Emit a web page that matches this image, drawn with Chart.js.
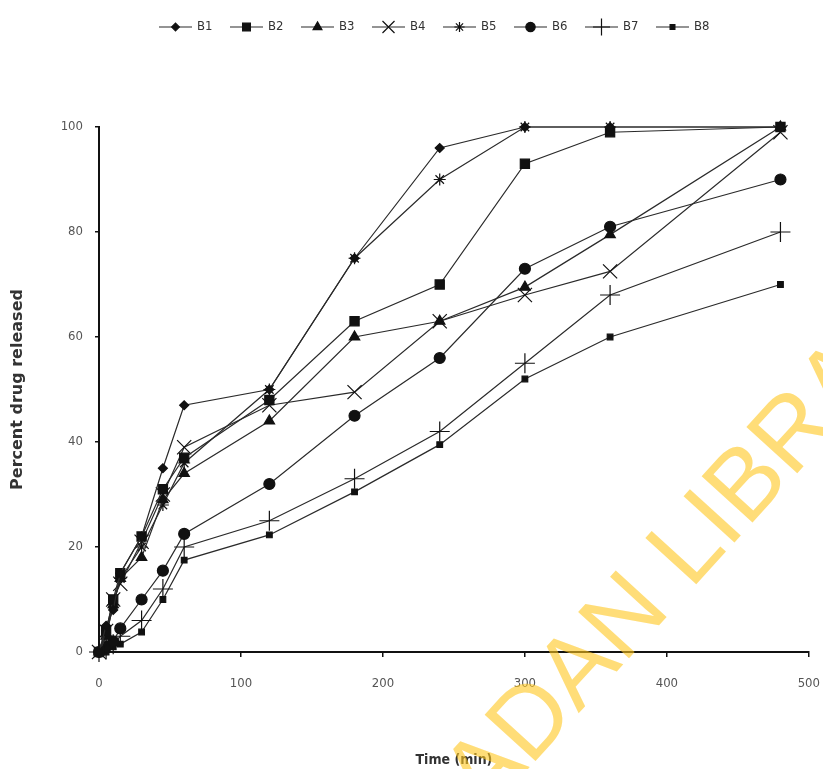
<!DOCTYPE html>
<html>
<head>
<meta charset="utf-8">
<script src="https://cdn.jsdelivr.net/npm/chart.js"></script>
<style>
  html, body { margin: 0; padding: 0; background: #fff; }
  #wrap { width: 823px; height: 769px; }
</style>
</head>
<body>
<div id="wrap"><canvas id="c" width="823" height="769"></canvas></div>
<script>
// time points (min)
const times = [0, 5, 10, 15, 30, 45, 60, 120, 180, 240, 300, 360, 480];

// percent drug released per batch
const b1 = [0, 5, 8, 15, 22, 35, 47, 50, 75, 96, 100, 100, 100];
const b2 = [0, 4, 10, 15, 22, 31, 37, 48, 63, 70, 93, 99, 100];
const b3 = [0, 3, 9, 14, 18, 29, 34, 44, 60, 63, 69.5, 79.5, 100];
const b4 = [0, 4, 10, 13, 21, 30, 39, 47, 49.5, 63, 68, 72.5, 99];
const b5 = [0, 3, 9, 14, 20, 28, 36, 50, 75, 90, 100, 100, 100];
const b6 = [0, 1, 2, 4.5, 10, 15.5, 22.5, 32, 45, 56, 73, 81, 90];
const b7 = [0, 0.5, 1.5, 3, 6, 12, 20, 25, 33, 42, 55, 68, 80];
const b8 = [0, 0, 1, 1.5, 3.8, 10, 17.5, 22.3, 30.5, 39.5, 52, 60, 70];

const names = ['B1', 'B2', 'B3', 'B4', 'B5', 'B6', 'B7', 'B8'];
const series = [b1, b2, b3, b4, b5, b6, b7, b8];

const xTicks = [0, 100, 200, 300, 400, 500];
const yTicks = [0, 20, 40, 60, 80, 100];

// marker look for each batch
const markers = [
    { style: 'rectRot', r: 4.5 },
    { style: 'rect', r: 6.5 },
    { style: 'triangle', r: 6 },
    { style: 'crossRot', r: 10 },
    { style: 'star', r: 6 },
    { style: 'circle', r: 5.5 },
    { style: 'cross', r: 10 },
    { style: 'rect', r: 4 }
];

const narrow = "'Liberation Sans Narrow', 'DejaVu Sans Condensed', 'Liberation Sans', sans-serif";
const tickFont = { family: narrow, size: 13 };

const datasets = series.map((vals, i) => ({
    label: names[i],
    data: vals.map((v, k) => ({ x: times[k], y: v })),
    borderColor: '#2a2a2a',
    borderWidth: 1.2,
    backgroundColor: '#111',
    pointStyle: markers[i].style,
    pointRadius: markers[i].r,
    pointBorderColor: '#111',
    pointBackgroundColor: '#111',
    pointBorderWidth: 1.2,
    tension: 0,
    clip: false
}));

// legend drawn as line + marker + label, like the original
const lineLegend = {
    id: 'lineLegend',
    afterDraw(chart) {
        const ctx = chart.ctx;
        const y = 27;
        let x = 159;
        ctx.save();
        chart.data.datasets.forEach((ds) => {
            ctx.strokeStyle = '#2a2a2a';
            ctx.lineWidth = 1.2;
            ctx.beginPath();
            ctx.moveTo(x, y);
            ctx.lineTo(x + 33, y);
            ctx.stroke();
            ctx.fillStyle = '#111';
            ctx.strokeStyle = '#111';
            Chart.helpers.drawPoint(ctx, {
                pointStyle: ds.pointStyle,
                radius: ds.pointRadius * 0.85,
                rotation: 0,
                borderWidth: 1.2
            }, x + 16.5, y);
            ctx.fillStyle = '#333';
            ctx.font = '13px ' + narrow;
            ctx.textBaseline = 'middle';
            ctx.textAlign = 'left';
            ctx.fillText(ds.label, x + 38, y);
            x += 71;
        });
        ctx.restore();
    }
};

// the library stamp that sits over the scan
const stamp = {
    id: 'stamp',
    afterDraw(chart) {
        const ctx = chart.ctx;
        ctx.save();
        ctx.font = "100px 'Liberation Sans', Arial, sans-serif";
        ctx.fillStyle = 'rgba(255, 198, 30, 0.6)';
        ctx.translate(530, 767);
        ctx.rotate(-47.7 * Math.PI / 180);
        ctx.textBaseline = 'alphabetic';
        ctx.textAlign = 'left';
        const pre = ctx.measureText('IBA').width;
        ctx.fillText('IBADAN LIBRARY', -pre, 0);
        ctx.restore();
    }
};

new Chart(document.getElementById('c'), {
    type: 'line',
    data: { datasets: datasets },
    options: {
        responsive: false,
        animation: false,
        layout: { padding: { top: 127, right: 14, bottom: 0, left: 0 } },
        plugins: {
            legend: { display: false },
            tooltip: { enabled: false }
        },
        scales: {
            x: {
                type: 'linear',
                min: 0,
                max: 500,
                afterBuildTicks: (axis) => { axis.ticks = xTicks.map(v => ({ value: v })); },
                afterFit: (axis) => { axis.height = 117; },
                grid: { display: true, drawOnChartArea: false, tickLength: 5, color: '#111', lineWidth: 1.5 },
                border: { display: true, color: '#111', width: 2 },
                // empty first line pushes the number down without widening the side padding
                ticks: { color: '#555', font: tickFont, padding: 3, maxRotation: 0, callback: (v) => ['', String(v)] },
                title: {
                    display: true,
                    text: 'Time (min)',
                    color: '#333',
                    font: { family: narrow, size: 14, weight: 'bold' },
                    padding: { top: 0, bottom: 0 }
                }
            },
            y: {
                min: 0,
                max: 100,
                afterBuildTicks: (axis) => { axis.ticks = yTicks.map(v => ({ value: v })); },
                afterFit: (axis) => { axis.width = 99; },
                grid: { display: true, drawOnChartArea: false, tickLength: 4, color: '#111', lineWidth: 1.5 },
                border: { display: true, color: '#111', width: 2 },
                ticks: { color: '#555', font: tickFont, padding: 12 },
                title: {
                    display: true,
                    text: 'Percent drug released',
                    color: '#333',
                    font: { family: "'DejaVu Sans', sans-serif", size: 16, weight: 'bold' },
                    padding: { top: 8, bottom: 0 }
                }
            }
        }
    },
    plugins: [lineLegend, stamp]
});
</script>
</body>
</html>
